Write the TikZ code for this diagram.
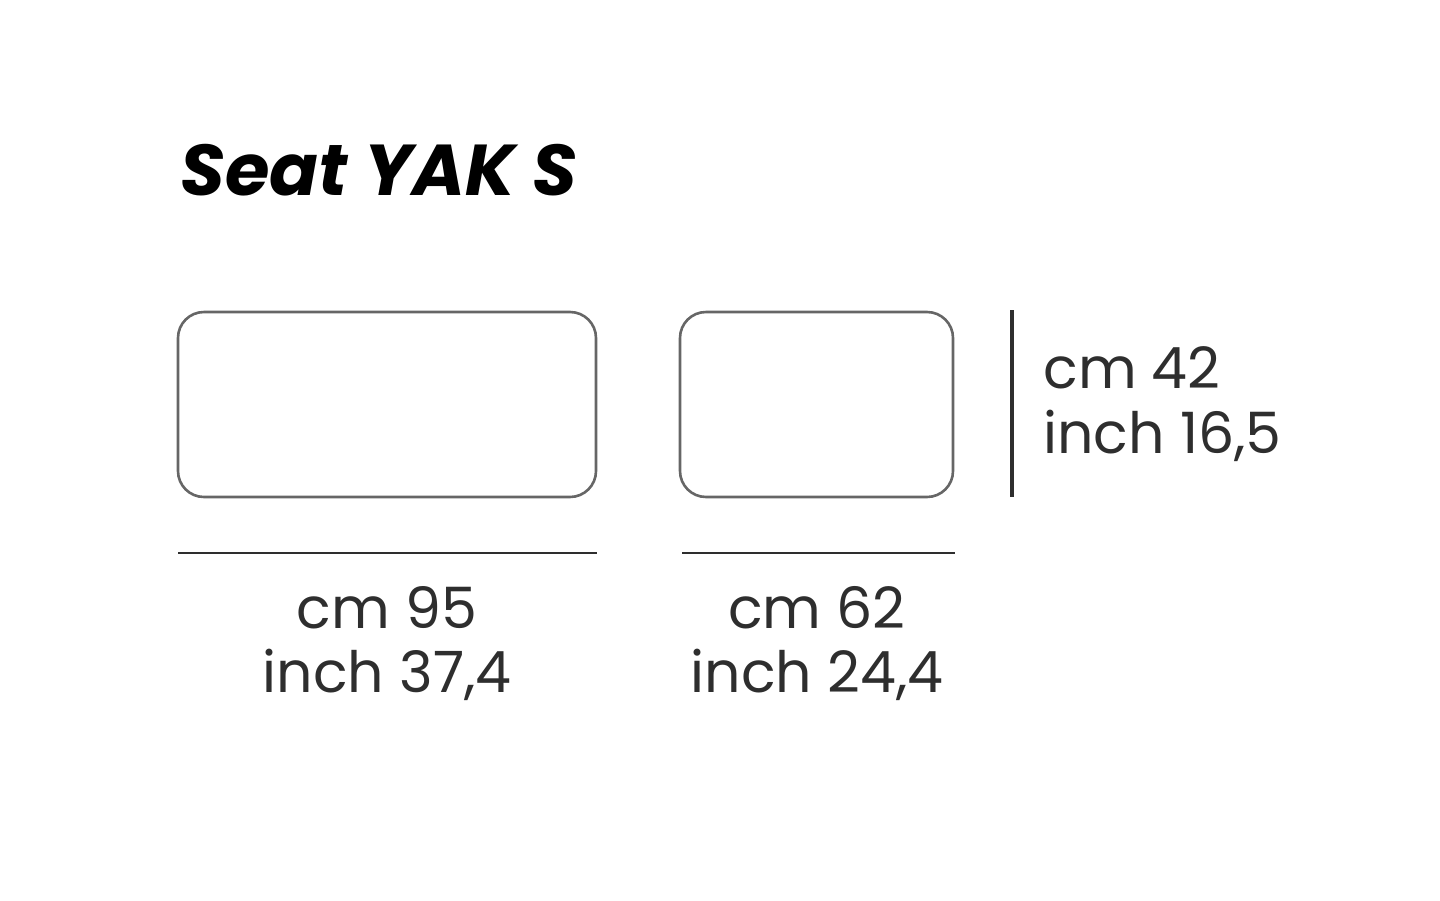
\documentclass[tikz,border=0pt]{standalone}
\usepackage{fontspec}
\setmainfont{Poppins}
\usetikzlibrary{positioning}
\definecolor{txtgray}{HTML}{2E2E2E}
\definecolor{boxgray}{HTML}{666666}
\tikzset{
  seatbox/.style = {draw=boxgray, line width=1.3pt, rounded corners=13pt, inner sep=0pt},
  dimtext/.style = {text=txtgray, font=\fontsize{28.5}{33}\selectfont, inner sep=0pt, anchor=base},
  dimline/.style = {draw=txtgray, line width=1.2pt}
}
\begin{document}
\begin{tikzpicture}[x=0.5pt, y=-0.5pt]
\useasboundingbox (0,0) rectangle (1440,900);
\node [anchor=base west, inner sep=0pt, text=black, font=\fontsize{36}{42}\selectfont\bfseries\itshape] (title) at (180,195) {Seat YAK S};
\node [seatbox, minimum width=209pt, minimum height=92.5pt] (long) at (387,404.5) {};
\node [seatbox, minimum width=136.5pt, minimum height=92.5pt] (short) at (816.5,404.5) {};
% dimension lines
\coordinate (hA) at (178,553); \coordinate (hB) at (597,553);
\coordinate (hC) at (682,553); \coordinate (hD) at (955,553);
\coordinate (vA) at (1012,310); \coordinate (vB) at (1012,497);
\draw [dimline] (hA) -- (hB);
\draw [dimline] (hC) -- (hD);
\draw [dimline, line width=1.8pt] (vA) -- (vB);
% labels
\node [dimtext] (cmL) at (387,628) {cm 95};
\node [dimtext] (inL) at (387,692) {inch 37,4};
\node [dimtext] (cmS) at (817,628) {cm 62};
\node [dimtext] (inS) at (817,692) {inch 24,4};
\node [dimtext, anchor=base west] (cmH) at (1043,388) {cm 42};
\node [dimtext, anchor=base west] (inH) at (1043,453) {inch 16,5};
\end{tikzpicture}
\end{document}
